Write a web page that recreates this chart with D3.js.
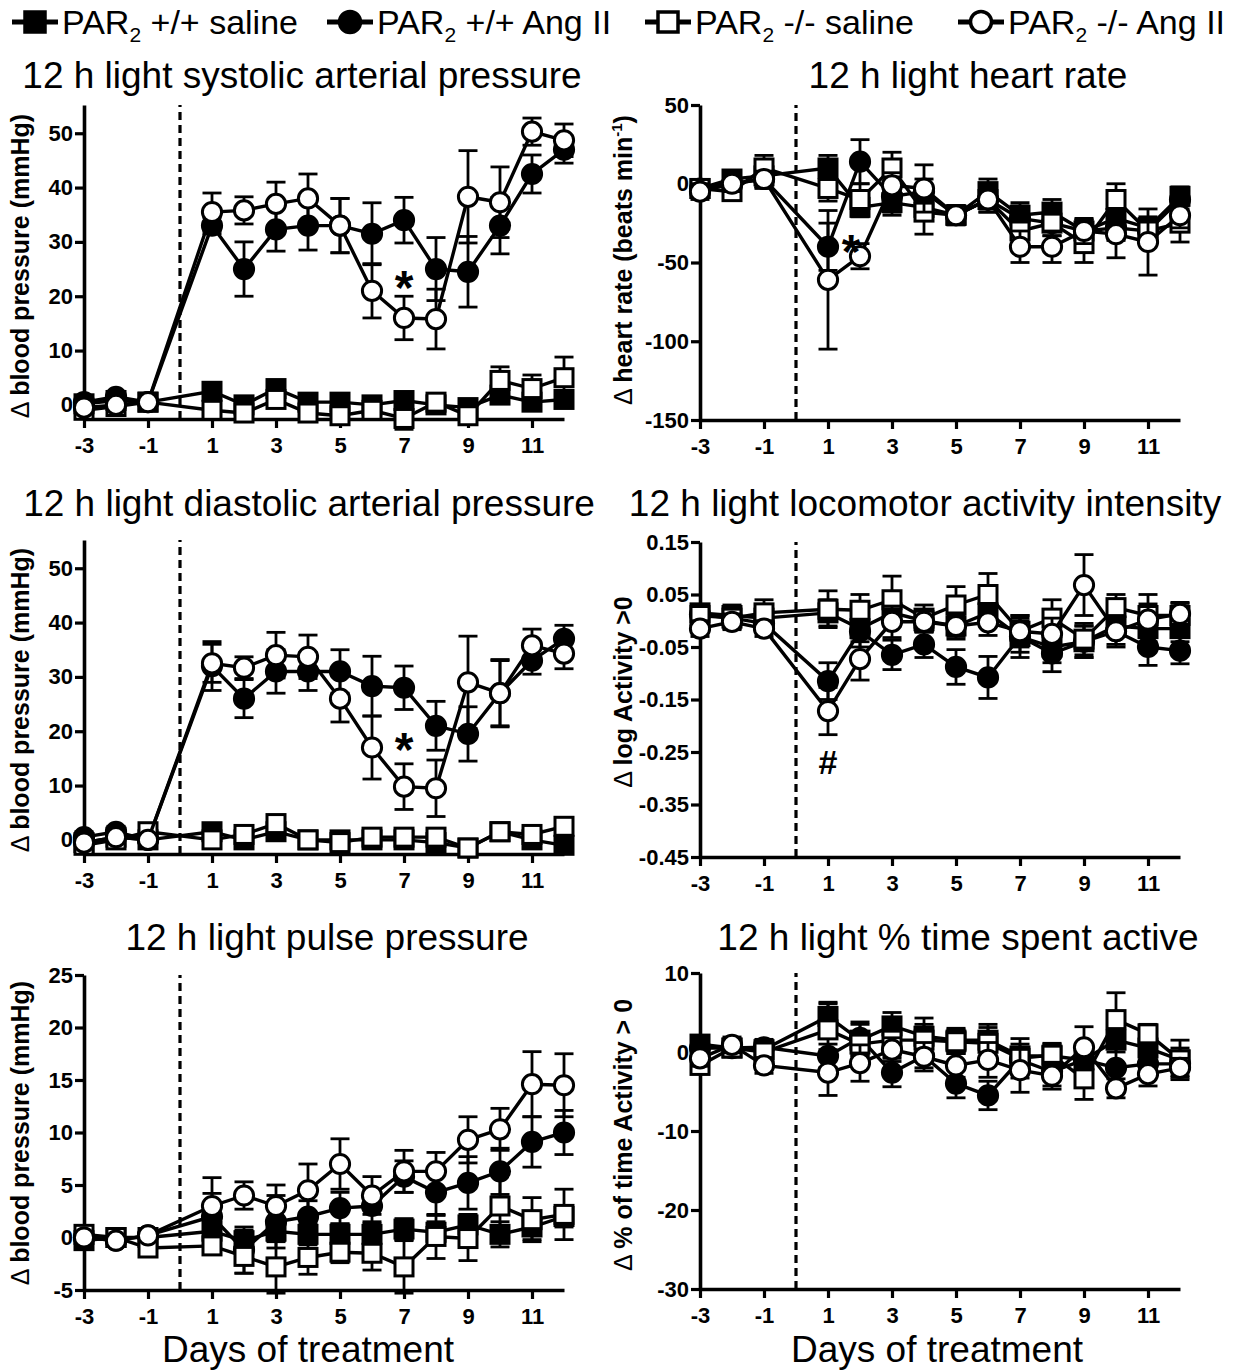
<!DOCTYPE html>
<html><head><meta charset="utf-8">
<script src="https://cdn.jsdelivr.net/npm/d3@7"></script>
<style>body{margin:0;background:#fff}svg{display:block}</style>
</head><body>
<svg id="chart" width="1233" height="1371"></svg>
<script>
// ---------------- DATA ----------------
const days = [-3,-2,-1,1,2,3,4,5,6,7,8,9,10,11,12];
const xTickValues = [-3,-1,1,3,5,7,9,11];
const groupNames = ["+/+ saline","+/+ Ang II","-/- saline","-/- Ang II"];

// Systolic
const sysTicks = [0,10,20,30,40,50];
const sysWtSal = [0.2,0.8,0.5,2.5,0,3,0.5,0.5,0,0.8,0,-0.5,1.8,0.5,1];
const sysWtSalErr = [1.5,1,1,1.5,1.5,1.5,1.5,1.5,1.5,1.5,1.5,1.5,1.5,1.5,1.5];
const sysWtAng = [0.5,1.5,0.5,33,25,32.3,33,33,31.5,34,25,24.5,33,42.5,47];
const sysWtAngErr = [1,1,1,1.5,5,4,4.5,5,5.7,4.2,5.8,6.5,5.2,3.5,2.5];
const sysKoSal = [-1,-0.3,0.5,-1,-1.5,1,-1.5,-2,-1,-2.5,0.5,-2,4.5,3,5];
const sysKoSalErr = [1,1,1.5,1,1,1.5,1.5,1.5,1,2,1,1,2.5,2.5,3.8];
const sysKoAng = [-0.5,0,0.5,35.5,35.8,37,38,33,21,16,15.8,38.3,37.3,50.3,48.7];
const sysKoAngErr = [1,1,1,3.5,2.5,4,4.5,5,5,4,5.5,8.5,6.5,2.5,3];

// Heart rate
const hrTicks = [-150,-100,-50,0,50];
const hrWtSal = [-3,3,5,10,-15,-12,-15,-20,-5,-20,-18,-30,-22,-28,-8];
const hrWtSalErr = [5,5,8,8,6,8,8,6,8,8,8,7,6,7,6];
const hrWtAng = [-3,0,3,-40,14,-8,-5,-20,-10,-22,-25,-30,-28,-30,-10];
const hrWtAngErr = [5,5,5,15,14,10,8,6,8,8,8,7,8,8,6];
const hrKoSal = [-3,-5,10,-3,-10,10,-18,-20,-10,-30,-25,-38,-10,-30,-25];
const hrKoSalErr = [5,5,8,8,10,10,14,6,8,8,8,12,10,8,12];
const hrKoAng = [-5,0,3,-61,-46,-1,-3,-20,-10,-40,-40,-30,-32,-37,-20];
const hrKoAngErr = [5,5,5,44,8,8,15,6,6,10,10,8,15,21,8];

// Diastolic
const diaTicks = [0,10,20,30,40,50];
const diaWtSal = [-0.5,0.5,0,1.5,0,1.5,0,0,0,0,-0.5,-1.5,1.5,0,-1];
const diaWtSalErr = [1,1,1,1,1,1,1,1,1,1,1,1,1,1,1];
const diaWtAng = [0.5,1.5,0,32,26,31,31,31,28.3,28,21,19.5,27,33,37];
const diaWtAngErr = [1,1,1,4.5,3.5,4,3.5,4,5.5,4,4.5,5,6,2.5,2.5];
const diaKoSal = [-1,0,1.5,0,1,3,0,-0.5,0.5,0.5,0.5,-1.5,1.5,1,2.5];
const diaKoSalErr = [1,1,1,1,1,1,1,1,1,1,1,1,1,1,1];
const diaKoAng = [-0.5,0.5,0,32.5,31.7,34,33.7,26,17,9.8,9.5,29,27,35.8,34.3];
const diaKoAngErr = [1,1,1,3.5,2,4.2,4,4.3,5.8,4.2,5.2,8.5,6.2,3,2.8];

// Locomotor activity intensity
const locTicks = [-0.45,-0.35,-0.25,-0.15,-0.05,0.05,0.15];
const locWtSal = [0.015,0.01,0.005,0.015,-0.015,0.015,0,-0.01,0.015,-0.03,-0.05,-0.04,-0.01,-0.015,-0.015];
const locWtSalErr = [0.015,0.02,0.02,0.025,0.025,0.025,0.02,0.02,0.025,0.04,0.03,0.03,0.02,0.025,0.025];
const locWtAng = [0.012,0.005,-0.005,-0.115,-0.02,-0.065,-0.045,-0.088,-0.108,-0.03,-0.062,-0.04,-0.02,-0.05,-0.057];
const locWtAngErr = [0.015,0.015,0.015,0.035,0.03,0.028,0.025,0.033,0.04,0.03,0.035,0.03,0.025,0.035,0.025];
const locKoSal = [0.01,0.005,0.015,0.022,0.02,0.04,0.005,0.03,0.05,-0.02,0.005,-0.035,0.025,0.01,0.01];
const locKoSalErr = [0.015,0.02,0.025,0.035,0.03,0.045,0.025,0.035,0.04,0.025,0.035,0.03,0.025,0.04,0.025];
const locKoAng = [-0.015,-0.002,-0.015,-0.172,-0.073,-0.002,-0.002,-0.01,-0.003,-0.02,-0.025,0.068,-0.02,0.002,0.013];
const locKoAngErr = [0.015,0.015,0.015,0.045,0.04,0.03,0.02,0.025,0.025,0.03,0.03,0.058,0.03,0.03,0.02];

// Pulse pressure
const ppTicks = [-5,0,5,10,15,20,25];
const ppWtSal = [-0.3,0,0,0.6,-0.3,0.6,0.3,0.3,0.3,0.8,0.5,1.2,0.3,1,2];
const ppWtSalErr = [0.5,0.5,0.5,1,1,1,1,1,1,1,1,1,1.2,1.2,1];
const ppWtAng = [0,-0.3,0.2,2,-1.2,1.5,2,2.8,3,5.8,4.3,5.2,6.3,9.1,10];
const ppWtAngErr = [0.5,0.5,0.5,2.2,2.2,2.5,1.5,1.5,1.5,1.5,2.2,2.5,2.2,2.4,2.1];
const ppKoSal = [0.3,0,-1,-0.8,-1.8,-2.8,-1.9,-1.4,-1.5,-2.8,0.1,-0.1,3,1.7,2.2];
const ppKoSalErr = [0.5,0.5,0.5,0.8,1.6,2.5,1.6,1,1.6,2.5,2.1,2.1,3,2.1,2.4];
const ppKoAng = [0,-0.3,0.2,3,4,3,4.5,7,4,6.3,6.3,9.3,10.3,14.6,14.5];
const ppKoAngErr = [0.5,0.5,0.5,2.7,1.3,2,2.5,2.4,1.8,2,1.8,2.2,2,3.1,3];

// % time spent active
const actTicks = [-30,-20,-10,0,10];
const actWtSal = [1,0.5,0.3,4.5,1.5,3.3,2,1.5,1.5,-0.5,-0.5,-1,1.5,0.5,-1];
const actWtSalErr = [1,1,1,1.8,2,1.7,2.3,1.5,2,1.5,1.5,1.5,1.5,1.5,1.5];
const actWtAng = [0.5,0.5,0.6,-0.5,1.8,-2.6,-0.5,-4,-5.5,-1,-2.5,-1,-2,-1.5,-1.5];
const actWtAngErr = [1,1,1,1.5,2,1.8,1.5,1.8,1.8,1.5,1.8,1.5,3,1.5,1.5];
const actKoSal = [-1.7,0.5,0,2.8,1,1.5,1.5,1.3,1.1,-0.8,-0.4,-3.4,4.1,2.3,-1];
const actKoSalErr = [1,1,1,3.3,1.5,2,2,1.5,2,2.5,1.5,2.6,3.4,1.2,2.5];
const actKoAng = [-0.8,0.9,-1.7,-2.6,-1.4,0.3,-0.6,-1.7,-1,-2.3,-3,0.6,-4.6,-2.8,-2];
const actKoAngErr = [1,1,1,2.9,2.3,1.5,1.8,1.5,2.2,2.8,1.7,2.6,1.2,1.5,1.2];

// ---------------- LAYOUT ----------------
const FONT = "'Liberation Sans', Arial, Helvetica, sans-serif";
const markerTypes = ["sqFill","ciFill","sqOpen","ciOpen"];
const colX = [[84,564],[700,1180]];

const panels = [
  {title:"12 h light systolic arterial pressure", tx:302, ty:88, col:0, yr:[419,105], yd:[-2.6,55.2], ticks:sysTicks, fmt:d=>String(d),
   ylab:"blood pressure (mmHg)", ylx:29, yly:266,
   series:[[sysWtSal,sysWtSalErr],[sysWtAng,sysWtAngErr],[sysKoSal,sysKoSalErr],[sysKoAng,sysKoAngErr]],
   notes:[{d:7,v:23.3,t:"*"}]},
  {title:"12 h light heart rate", tx:968, ty:88, col:1, yr:[420,105], yd:[-150,50], ticks:hrTicks, fmt:d=>String(d),
   ylab:"hr", ylx:632, yly:260,
   series:[[hrWtSal,hrWtSalErr],[hrWtAng,hrWtAngErr],[hrKoSal,hrKoSalErr],[hrKoAng,hrKoAngErr]],
   notes:[{d:1.72,v:-37,t:"*"}]},
  {title:"12 h light diastolic arterial pressure", tx:309, ty:516, col:0, yr:[854,540], yd:[-2.6,55.2], ticks:diaTicks, fmt:d=>String(d),
   ylab:"blood pressure (mmHg)", ylx:29, yly:700,
   series:[[diaWtSal,diaWtSalErr],[diaWtAng,diaWtAngErr],[diaKoSal,diaKoSalErr],[diaKoAng,diaKoAngErr]],
   notes:[{d:7,v:18.4,t:"*"}]},
  {title:"12 h light locomotor activity intensity", tx:925, ty:516, col:1, yr:[857,542], yd:[-0.45,0.15], ticks:locTicks, fmt:d=>d.toFixed(2),
   ylab:"log Activity >0", ylx:632, yly:692,
   series:[[locWtSal,locWtSalErr],[locWtAng,locWtAngErr],[locKoSal,locKoSalErr],[locKoAng,locKoAngErr]],
   notes:[{d:1,v:-0.268,t:"#"}]},
  {title:"12 h light pulse pressure", tx:327, ty:950, col:0, yr:[1290,975], yd:[-5,25], ticks:ppTicks, fmt:d=>String(d),
   ylab:"blood pressure (mmHg)", ylx:29, yly:1133, xlab:true, xlx:308,
   series:[[ppWtSal,ppWtSalErr],[ppWtAng,ppWtAngErr],[ppKoSal,ppKoSalErr],[ppKoAng,ppKoAngErr]],
   notes:[]},
  {title:"12 h light % time spent active", tx:958, ty:950, col:1, yr:[1289,973], yd:[-30,10], ticks:actTicks, fmt:d=>String(d),
   ylab:"% of time Activity > 0", ylx:632, yly:1135, xlab:true, xlx:937,
   series:[[actWtSal,actWtSalErr],[actWtAng,actWtAngErr],[actKoSal,actKoSalErr],[actKoAng,actKoAngErr]],
   notes:[]}
];

const svg = d3.select("#chart").style("font-family", FONT);

function drawMarker(g, type, cx, cy, s) {
  const sw = s.sw;
  if (type.startsWith("sq")) {
    g.append("rect").attr("x", cx - s.sq/2).attr("y", cy - s.sq/2)
      .attr("width", s.sq).attr("height", s.sq)
      .attr("fill", type === "sqFill" ? "#000" : "#fff")
      .attr("stroke", "#000").attr("stroke-width", sw);
  } else {
    g.append("circle").attr("cx", cx).attr("cy", cy).attr("r", s.r)
      .attr("fill", type === "ciFill" ? "#000" : "#fff")
      .attr("stroke", "#000").attr("stroke-width", sw);
  }
}

const mSize = {sq:18, r:9.6, sw:3};

panels.forEach(p => {
  const x = d3.scaleLinear().domain([-3, 12]).range(colX[p.col]);
  const y = d3.scaleLinear().domain(p.yd).range(p.yr);
  const g = svg.append("g");

  // title
  g.append("text").attr("x", p.tx).attr("y", p.ty).attr("text-anchor", "middle")
    .attr("font-size", 37).text(p.title);

  // dashed treatment line
  g.append("line").attr("x1", x(0)).attr("x2", x(0)).attr("y1", p.yr[0]).attr("y2", p.yr[1])
    .attr("stroke", "#000").attr("stroke-width", 3.2).attr("stroke-dasharray", "8,5");

  // axes
  const yAxis = d3.axisLeft(y).tickValues(p.ticks).tickFormat(p.fmt).tickSize(9).tickSizeOuter(0).tickPadding(2);
  const xAxis = d3.axisBottom(x).tickValues(xTickValues).tickFormat(d => String(d)).tickSize(9).tickSizeOuter(0).tickPadding(9);
  const ya = g.append("g").attr("transform", `translate(${colX[p.col][0]},0)`).call(yAxis);
  const xa = g.append("g").attr("transform", `translate(0,${p.yr[0]})`).call(xAxis);
  [ya, xa].forEach(a => {
    a.select(".domain").attr("stroke-width", 3.6).attr("stroke", "#000");
    a.selectAll(".tick line").attr("stroke-width", 3.2).attr("stroke", "#000");
    a.selectAll(".tick text").attr("font-size", 22).attr("font-weight", "bold")
      .attr("font-family", FONT).attr("fill", "#000");
  });

  // y axis label
  const yl = g.append("text").attr("transform", `translate(${p.ylx},${p.yly}) rotate(-90)`)
    .attr("text-anchor", "middle").attr("font-size", 25).attr("font-weight", "bold");
  yl.append("tspan").attr("font-weight", "normal").text("\u0394 ");
  if (p.ylab === "hr") {
    yl.append("tspan").text("heart rate (beats min");
    yl.append("tspan").attr("font-size", 15).attr("dy", -10).text("-1");
    yl.append("tspan").attr("dy", 10).text(")");
  } else {
    yl.append("tspan").text(p.ylab);
  }

  if (p.xlab) {
    g.append("text").attr("x", p.xlx).attr("y", 1362).attr("text-anchor", "middle")
      .attr("font-size", 37).text("Days of treatment");
  }

  // series
  p.series.forEach((s, si) => {
    const vals = s[0], errs = s[1];
    const pts = days.map((d, i) => ({d, v: vals[i], e: errs[i]}));
    const sg = g.append("g");
    // error bars
    pts.forEach(pt => {
      const cx = x(pt.d), y1 = y(pt.v + pt.e), y2 = y(pt.v - pt.e);
      sg.append("line").attr("x1", cx).attr("x2", cx).attr("y1", y1).attr("y2", y2)
        .attr("stroke", "#000").attr("stroke-width", 2.8);
      [y1, y2].forEach(yy => sg.append("line").attr("x1", cx - 9.5).attr("x2", cx + 9.5)
        .attr("y1", yy).attr("y2", yy).attr("stroke", "#000").attr("stroke-width", 2.8));
    });
    // line
    sg.append("path").datum(pts)
      .attr("d", d3.line().x(pt => x(pt.d)).y(pt => y(pt.v)))
      .attr("fill", "none").attr("stroke", "#000").attr("stroke-width", 3.4);
    pts.forEach(pt => drawMarker(sg, markerTypes[si], x(pt.d), y(pt.v), mSize));
  });

  // annotations
  p.notes.forEach(n => {
    if (n.t === "*") {
      g.append("text").attr("x", x(n.d)).attr("y", y(n.v) + 26).attr("text-anchor", "middle")
        .attr("font-size", 48).attr("font-weight", "bold").text("*");
    } else {
      g.append("text").attr("x", x(n.d)).attr("y", y(n.v) + 13).attr("text-anchor", "middle")
        .attr("font-size", 34).attr("font-weight", "bold").text("#");
    }
  });
});

// legend
const legX = [12, 327, 645, 958];
const legY = 22;
groupNames.forEach((name, i) => {
  const lg = svg.append("g");
  lg.append("line").attr("x1", legX[i]).attr("x2", legX[i] + 46).attr("y1", legY).attr("y2", legY)
    .attr("stroke", "#000").attr("stroke-width", 5);
  drawMarker(lg, markerTypes[i], legX[i] + 23, legY, {sq:20, r:10.5, sw:3.5});
  const t = lg.append("text").attr("x", legX[i] + 50).attr("y", legY + 12).attr("font-size", 34);
  t.append("tspan").text("PAR");
  t.append("tspan").attr("font-size", 21).attr("dy", 8).text("2");
  t.append("tspan").attr("dy", -8).text(" " + name);
});
</script>
</body></html>
